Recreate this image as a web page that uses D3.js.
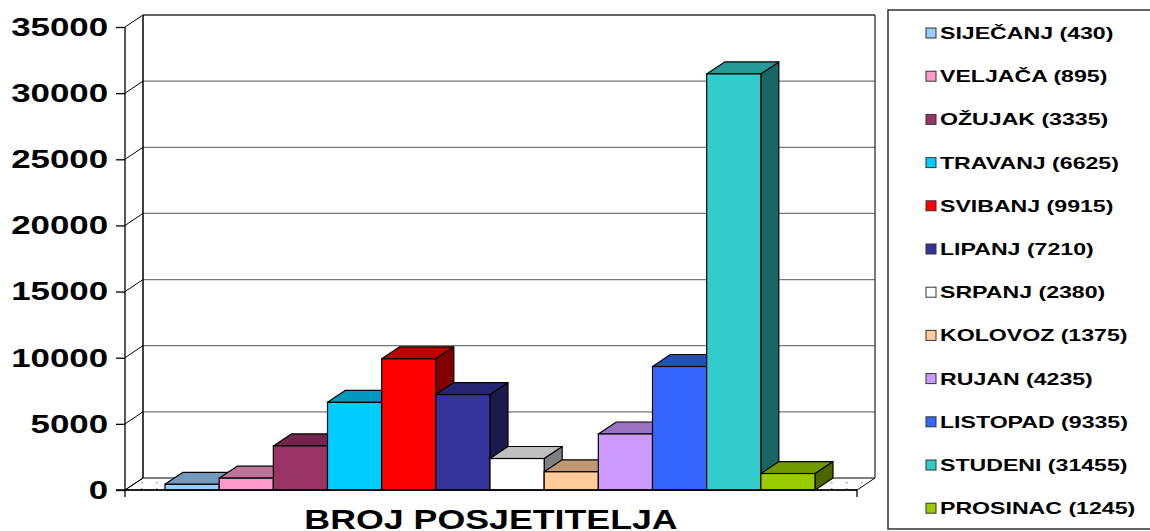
<!DOCTYPE html>
<html>
<head>
<meta charset="utf-8">
<script src="https://cdn.jsdelivr.net/npm/d3@7"></script>
<style>
  body { margin: 0; background: #fff; }
  text { font-family: "Liberation Sans", Arial, sans-serif; font-weight: bold; fill: #000; }
</style>
</head>
<body>
<div id="chart"></div>
<script>
var months = ["SIJEČANJ", "VELJAČA", "OŽUJAK", "TRAVANJ", "SVIBANJ", "LIPANJ",
              "SRPANJ", "KOLOVOZ", "RUJAN", "LISTOPAD", "STUDENI", "PROSINAC"];
var visitors = [430, 895, 3335, 6625, 9915, 7210, 2380, 1375, 4235, 9335, 31455, 1245];
var colors = ["#99CCFF", "#FF99CC", "#993366", "#00CCFF", "#FF0000", "#333399",
              "#FFFFFF", "#FFCC99", "#CC99FF", "#3366FF", "#33CCCC", "#99CC00"];
var y_ticks = [0, 5000, 10000, 15000, 20000, 25000, 30000, 35000];
var axis_title = "BROJ POSJETITELJA";

var width = 1150, height = 531;
var dx = 18, dy = 12;           // depth of the 3d box
var plot_left = 125, plot_right = 857;

var svg = d3.select("#chart")
    .append("svg")
    .attr("width", width)
    .attr("height", height);

var defs = svg.append("defs");
var dots = defs.append("pattern")
    .attr("id", "floor_dots")
    .attr("patternUnits", "userSpaceOnUse")
    .attr("width", 15).attr("height", 6);
dots.append("rect").attr("x", 6).attr("y", 2).attr("width", 1.5).attr("height", 1.5).attr("fill", "#999");

var y = d3.scaleLinear().domain([0, 35000]).range([490, 27]);
var x = d3.scaleBand().domain(months).range([165, 815]).padding(0);

function shade(c, k) {
    var r = d3.rgb(c);
    return d3.rgb(r.r * k, r.g * k, r.b * k).formatHex();
}

// floor
svg.append("path")
    .attr("d", `M${plot_left},${y(0)} L${plot_right},${y(0)} L${plot_right + dx},${y(0) - dy} L${plot_left + dx},${y(0) - dy} Z`)
    .attr("fill", "url(#floor_dots)")
    .attr("stroke", "#000")
    .attr("stroke-width", 1);

// back wall grid lines
svg.append("g").selectAll("line")
    .data(y_ticks.filter(function(d) { return d > 0; }))
    .enter().append("line")
    .attr("x1", plot_left + dx).attr("x2", plot_right + dx)
    .attr("y1", function(d) { return y(d) - dy; })
    .attr("y2", function(d) { return y(d) - dy; })
    .attr("stroke", function(d) { return d == 35000 ? "#333" : "#777"; })
    .attr("stroke-width", 1.3);

// side wall diagonals
svg.append("g").selectAll("line")
    .data(y_ticks)
    .enter().append("line")
    .attr("x1", plot_left).attr("x2", plot_left + dx)
    .attr("y1", function(d) { return y(d); })
    .attr("y2", function(d) { return y(d) - dy; })
    .attr("stroke", "#000")
    .attr("stroke-width", 1);

// wall edges
svg.append("line")
    .attr("x1", plot_left + dx).attr("x2", plot_left + dx)
    .attr("y1", y(35000) - dy).attr("y2", y(0) - dy)
    .attr("stroke", "#000").attr("stroke-width", 1.5);
svg.append("line")
    .attr("x1", plot_right + dx).attr("x2", plot_right + dx)
    .attr("y1", y(35000) - dy).attr("y2", y(0) - dy)
    .attr("stroke", "#333").attr("stroke-width", 1.3);

// bars
var bars = svg.append("g").selectAll("g")
    .data(months.map(function(m, i) { return {name: m, value: visitors[i], color: colors[i]}; }))
    .enter().append("g");

bars.append("path")
    .attr("d", function(d) {
        var x1 = x(d.name) + x.bandwidth(), yt = y(d.value);
        return `M${x1},${yt} L${x1 + dx},${yt - dy} L${x1 + dx},${y(0) - dy} L${x1},${y(0)} Z`;
    })
    .attr("fill", function(d) { return shade(d.color, 0.5); })
    .attr("stroke", "#000").attr("stroke-width", 1.2).attr("stroke-linejoin", "round");

bars.append("path")
    .attr("d", function(d) {
        var x0 = x(d.name), x1 = x0 + x.bandwidth(), yt = y(d.value);
        return `M${x0},${yt} L${x1},${yt} L${x1 + dx},${yt - dy} L${x0 + dx},${yt - dy} Z`;
    })
    .attr("fill", function(d) { return shade(d.color, 0.75); })
    .attr("stroke", "#000").attr("stroke-width", 1.2).attr("stroke-linejoin", "round");

bars.append("rect")
    .attr("x", function(d) { return x(d.name); })
    .attr("y", function(d) { return y(d.value); })
    .attr("width", x.bandwidth())
    .attr("height", function(d) { return y(0) - y(d.value); })
    .attr("fill", function(d) { return d.color; })
    .attr("stroke", "#000").attr("stroke-width", 1.2);

// front axes
svg.append("line")
    .attr("x1", plot_left).attr("x2", plot_left)
    .attr("y1", y(35000)).attr("y2", y(0) + 7)
    .attr("stroke", "#000").attr("stroke-width", 1.3);
svg.append("line")
    .attr("x1", plot_left - 9).attr("x2", plot_right)
    .attr("y1", y(0)).attr("y2", y(0))
    .attr("stroke", "#000").attr("stroke-width", 1.3);
svg.append("line")
    .attr("x1", plot_right).attr("x2", plot_right)
    .attr("y1", y(0)).attr("y2", y(0) + 7)
    .attr("stroke", "#000").attr("stroke-width", 1.3);

var y_axis = svg.append("g")
    .attr("transform", `translate(${plot_left}, 0)`)
    .call(d3.axisLeft(y).tickValues(y_ticks).tickSize(9).tickPadding(8).tickFormat(d3.format("d")));
y_axis.select(".domain").remove();
y_axis.selectAll("line").attr("stroke", "#000").attr("stroke-width", 1.3);
y_axis.selectAll("text")
    .style("font-size", "26px")
    .style("font-family", "'Liberation Sans', Arial, sans-serif")
    .style("font-weight", "bold")
    .attr("x", null)
    .attr("transform", "translate(-17,0) scale(1.34,1)");

// axis title (cut by the bottom edge, as in the original)
svg.append("text")
    .attr("transform", `translate(491, 529) scale(1.3,1)`)
    .style("text-anchor", "middle")
    .style("font-size", "27.5px")
    .text(axis_title);

// legend
var legend = svg.append("g");
legend.append("rect")
    .attr("x", 888).attr("y", 10)
    .attr("width", 300).attr("height", 519)
    .attr("fill", "none")
    .attr("stroke", "#333").attr("stroke-width", 1.5);

var items = legend.selectAll("g.item")
    .data(months)
    .enter().append("g")
    .attr("class", "item")
    .attr("transform", function(d, i) { return `translate(926, ${33 + i * 43.2})`; });

items.append("rect")
    .attr("x", 0).attr("y", -5)
    .attr("width", 10).attr("height", 10)
    .attr("fill", function(d, i) { return colors[i]; })
    .attr("stroke", "#333").attr("stroke-width", 1);

items.append("text")
    .attr("transform", "translate(14, 6) scale(1.36,1)")
    .style("font-size", "17px")
    .text(function(d, i) { return `${d} (${visitors[i]})`; });
</script>
</body>
</html>
